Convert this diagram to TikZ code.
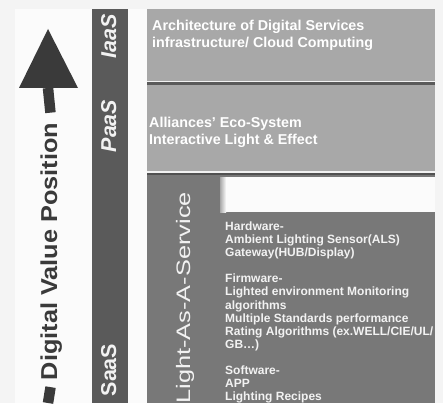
\documentclass[tikz,border=0pt]{standalone}
\usepackage{fontspec}
\setmainfont{Liberation Sans}
\newfontfamily\widesans[FakeStretch=1.3]{Liberation Sans}
\newfontfamily\dvpsans[FakeStretch=1.1]{Liberation Sans}
\usepackage{tikz}
\usetikzlibrary{positioning}
\definecolor{pagebg}{HTML}{F4F4F4}
\definecolor{paperwhite}{HTML}{FBFBFB}
\definecolor{tierbar}{HTML}{5A5A5A}
\definecolor{lightlayer}{HTML}{A8A8A8}
\definecolor{darklayer}{HTML}{787878}
\definecolor{arrowgrey}{HTML}{3A3A3A}

\begin{document}
\begin{tikzpicture}[x=1pt, y=-1pt,
    layer/.style={draw=none, fill=#1},
    layertext/.style={anchor=north west, align=left, inner sep=0pt, text=white, font=\bfseries\fontsize{14.3}{17}\selectfont},
    itemtext/.style={anchor=north west, align=left, inner sep=0pt, text=white!95!black, font=\bfseries\fontsize{12}{13.1}\selectfont},
    tier/.style={rotate=90, anchor=base, text=white!95!black, font=\bfseries\fontsize{21}{21}\selectfont},
    shaft/.style={draw=arrowgrey, line width=10.5pt}
]
\useasboundingbox (0,0) rectangle (443,403);
\fill[pagebg] (0,0) rectangle (443,403);

% left panel and tier bar
\fill[paperwhite] (15,9) rectangle (147,403);
\fill[tierbar] (92,9) rectangle (128,403);

% layers
\fill[layer=lightlayer] (147,9) rectangle (435,81);
\fill[layer=white!85!lightlayer] (147,81) rectangle (435,82.5);
\fill[layer=tierbar] (147,82.5) rectangle (435,85);
\fill[layer=lightlayer] (147,85) rectangle (435,171);
\fill[layer=white!85!lightlayer] (147,171) rectangle (435,172.5);
\fill[layer=tierbar!90!black] (147,172.5) rectangle (435,175);
\fill[layer=darklayer] (147,175) rectangle (435,403);
\fill[left color=lightlayer, right color=paperwhite, draw=none] (220,177) rectangle (226,212);
\fill[layer=paperwhite] (226,177) rectangle (435,212);

% texts in the layers
\node[layertext] (iaastext) at (152,19.5) {Architecture of Digital Services\\infrastructure/ Cloud Computing};
\node[layertext] (paastext) at (149,116.5) {Alliances' Eco-System\\Interactive Light \& Effect};
\node[itemtext] (saastext) at (225,221.5) {Hardware-\\Ambient Lighting Sensor(ALS)\\Gateway(HUB/Display)\\[13.1pt]
Firmware-\\Lighted environment Monitoring\\algorithms\\Multiple Standards performance\\Rating Algorithms (ex.WELL/CIE/UL/\\GB\dots)\\[13.1pt]
Software-\\APP\\Lighting Recipes};
\node[rotate=90, anchor=base east, inner sep=0pt, text=white!95!black, font=\widesans\fontsize{19.5}{20}\selectfont] (laas) at (190,192) {Light-As-A-Service};

% tier labels
\node[tier, font=\bfseries\itshape\fontsize{21.5}{21}\selectfont] (iaas) at (116,36.5) {IaaS};
\node[tier, font=\bfseries\itshape\fontsize{21.5}{21}\selectfont] (paas) at (116,126) {PaaS};
\node[tier, font=\bfseries\fontsize{21.5}{21}\selectfont] (saas) at (116,370) {SaaS};

% value arrow
\node[rotate=90, anchor=base, text=arrowgrey, font=\dvpsans\bfseries\fontsize{23}{23}\selectfont] (dvp) at (57,251.5) {Digital Value Position};
\coordinate (head) at (48,88);
\coordinate (tail) at (48,403);
\fill[arrowgrey] (48,29) -- (78,88) -- (19,88) -- cycle;
\draw[shaft, shorten >=6.7pt] (head) -- (dvp.east);
\draw[shaft, shorten <=3.5pt] (dvp.west) -- (tail);

\end{tikzpicture}
\end{document}
